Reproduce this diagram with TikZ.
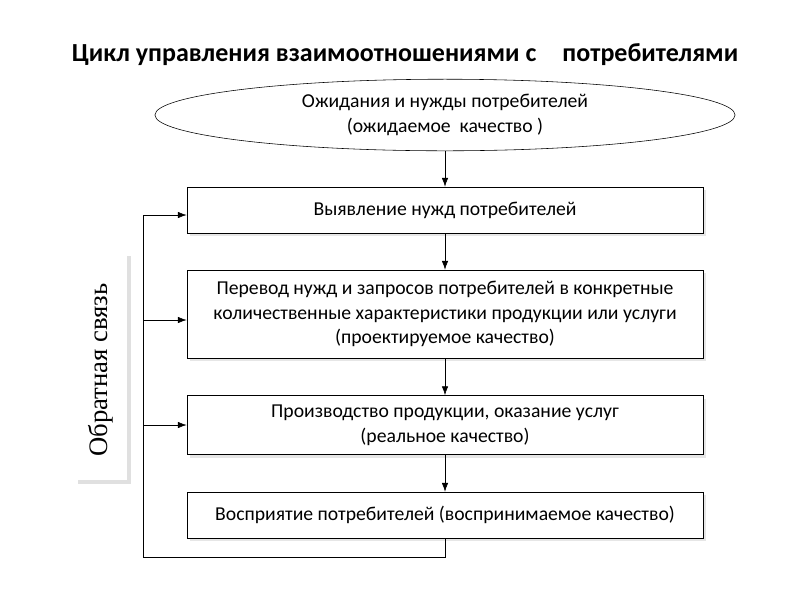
\documentclass[tikz,border=0pt]{standalone}
\usepackage{fontspec}
\setmainfont{Carlito}
\newfontfamily\serifrm{Liberation Serif}
\usetikzlibrary{shapes.geometric,arrows.meta,shadows}
\tikzset{
  stepbox/.style={draw, fill=white, minimum width=12.9cm, align=center,
    font=\fontsize{14}{17.5}\selectfont, drop shadow={opacity=0.2}},
  flow/.style={-{Latex[length=2.2mm,width=1.6mm]}, thin}
}
\begin{document}
\begin{tikzpicture}[x=0.025cm, y=-0.025cm]
\useasboundingbox (0,0) rectangle (800,600);
\node[font=\fontsize{18.5}{22}\selectfont\bfseries] (title) at (405,55)
  {Цикл управления взаимоотношениями с\hspace{1em}потребителями};
\node[draw, ellipse, fill=white, minimum width=14.5cm, minimum height=1.75cm,
  align=center, font=\fontsize{14}{17.5}\selectfont] (expect) at (445,115)
  {Ожидания и нужды потребителей\\(ожидаемое\ \ качество )};
\node[stepbox, minimum height=1.15cm] (detect) at (445,210) {Выявление нужд потребителей};
\node[stepbox, minimum height=2.2cm] (transl) at (445,314)
  {Перевод нужд и запросов потребителей в конкретные\\количественные характеристики продукции или услуги\\(проектируемое качество)};
\node[stepbox, minimum height=1.48cm] (prod) at (445,425)
  {Производство продукции, оказание услуг\\(реальное качество)};
\node[stepbox, minimum height=1.15cm] (percep) at (445,515)
  {Восприятие потребителей (воспринимаемое качество)};
\fill[black!12] (78,256) rectangle (131,484);
\fill[white] (75,253) rectangle (127,480);
\node[rotate=90, font=\serifrm\fontsize{19}{22}\selectfont] (fback) at (101,370) {Обратная связь};
\draw[flow] (expect) -- (detect);
\draw[flow] (detect) -- (transl);
\draw[flow] (transl) -- (prod);
\draw[flow] (prod) -- (percep);
\coordinate (bend1) at (445,557);
\coordinate (bend2) at (143,557);
\coordinate (top) at (143,215);
\draw (percep.south) -- (bend1) -- (bend2) -- (top);
\draw[flow] (top) -- (detect.west |- top);
\draw[flow] (143,320) -- (transl.west |- 0,320);
\draw[flow] (143,425) -- (prod.west);
\end{tikzpicture}
\end{document}
